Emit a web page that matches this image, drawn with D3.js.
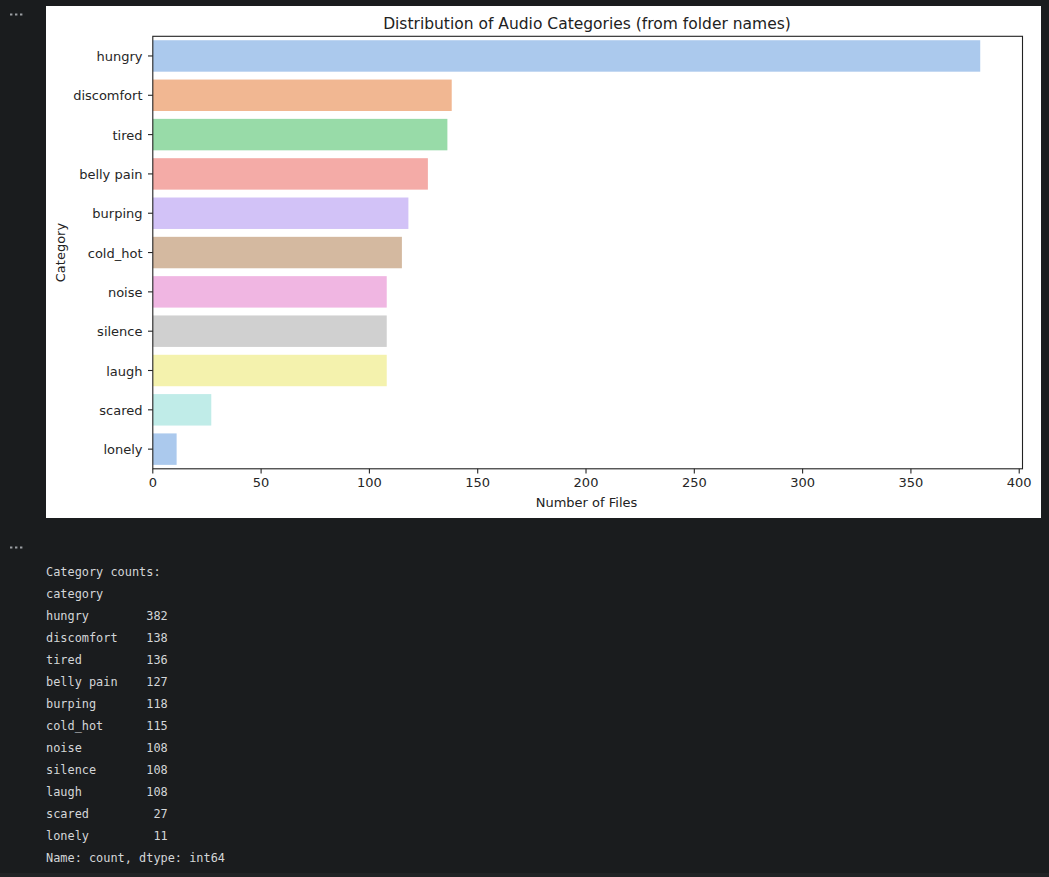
<!DOCTYPE html>
<html><head><meta charset="utf-8">
<script src="https://cdn.jsdelivr.net/npm/d3@7"></script>
<style>
html,body{margin:0;padding:0;background:#1a1c1e;width:1049px;height:877px;overflow:hidden}
svg{display:block}
text{font-family:"DejaVu Sans",sans-serif}
.mono{font-family:"DejaVu Sans Mono",monospace;font-size:11.9px;fill:#d4d6d8;white-space:pre}
</style></head><body>
<svg id="c" width="1049" height="877"></svg>
<script>
const categories=["hungry","discomfort","tired","belly pain","burping","cold_hot","noise","silence","laugh","scared","lonely"];
const counts=[382,138,136,127,118,115,108,108,108,27,11];
const colors=["#abc9ed","#f1b792","#98dba8","#f4aba7","#d2c2f7","#d4b9a0","#f0b6e2","#d0d0d0","#f4f2ad","#c0ece8","#abc9ed"];
const xTicks=[0,50,100,150,200,250,300,350,400];
const consoleHead=["Category counts:","category"];
const consoleFoot="Name: count, dtype: int64";

const svg=d3.select("#c");
svg.append("rect").attr("x",46).attr("y",6).attr("width",995).attr("height",512).attr("fill","#fff");
const L=152.8,R=1022.5,T=36.3,B=468.8;
const x=d3.scaleLinear().domain([0,382*1.05]).range([L,1021.6]);
const y=d3.scaleBand().domain(categories).range([T,B]).paddingInner(0.2).paddingOuter(0.1);
svg.selectAll("rect.bar").data(categories).join("rect").attr("class","bar")
 .attr("x",x(0)).attr("y",d=>y(d)).attr("width",(d,i)=>x(counts[i])-x(0)).attr("height",y.bandwidth())
 .attr("fill",(d,i)=>colors[i]);
const ax=svg.append("g").attr("transform",`translate(0,${B})`).call(d3.axisBottom(x).tickValues(xTicks).tickSize(4.8).tickPadding(4.5).offset(0));
const ay=svg.append("g").attr("transform",`translate(${L},0)`).call(d3.axisLeft(y).tickSize(4.8).tickPadding(5.5).offset(0));
[ax,ay].forEach(g=>{g.select(".domain").remove();
 g.selectAll("line").attr("stroke","#262626").attr("stroke-width",1.1);
 g.selectAll("text").attr("font-size",13).attr("font-family","DejaVu Sans").attr("fill","#262626");});
ay.selectAll("text").attr("dy","0.4em");
svg.append("rect").attr("x",L).attr("y",T).attr("width",R-L).attr("height",B-T).attr("fill","none").attr("stroke","#222").attr("stroke-width",1.1);
svg.append("text").attr("x",587).attr("y",29).attr("text-anchor","middle").attr("font-size",15.5).attr("fill","#222").text("Distribution of Audio Categories (from folder names)");
svg.append("text").attr("x",586.5).attr("y",507).attr("text-anchor","middle").attr("font-size",13).attr("fill","#222").text("Number of Files");
svg.append("text").attr("transform",`translate(65.2,${(T+B)/2}) rotate(-90)`).attr("text-anchor","middle").attr("font-size",13).attr("fill","#222").text("Category");
// cell markers
[14.5,547.5].forEach(cy=>[11,16,21].forEach(cx=>svg.append("rect").attr("x",cx-1).attr("y",cy-1).attr("width",2.4).attr("height",2).attr("fill","#9a9da1")));
// console output
const pad=(c,v)=>c.padEnd(14," ")+String(v).padStart(3," ");
const lines=[...consoleHead,...categories.map((c,i)=>pad(c,counts[i])),consoleFoot];
svg.selectAll("text.mono").data(lines).join("text").attr("class","mono")
 .attr("x",46).attr("y",(d,i)=>576+i*22).attr("xml:space","preserve").text(d=>d);
svg.append("rect").attr("x",0).attr("y",873).attr("width",1049).attr("height",4).attr("fill","#212325");
</script>
</body></html>
